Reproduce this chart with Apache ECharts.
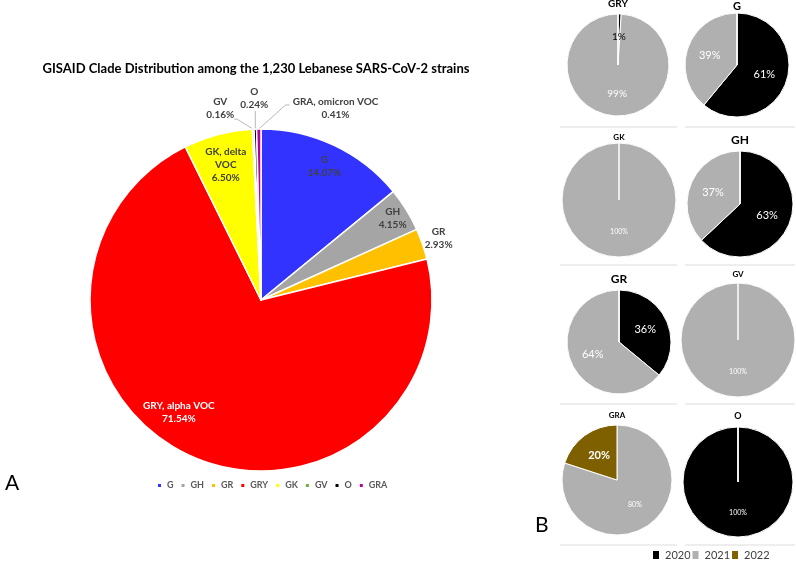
<!DOCTYPE html>
<html>
<head>
<meta charset="utf-8">
<script src="https://cdn.jsdelivr.net/npm/echarts@6/dist/echarts.min.js"></script>
<style>
  html, body { margin: 0; padding: 0; background: #fff; }
  #chart { width: 796px; height: 563px; }
</style>
</head>
<body>
<div id="chart"></div>
<script>
// panel A: clade share of the 1,230 strains (%)
const clades = ['G', 'GH', 'GR', 'GRY', 'GK', 'GV', 'O', 'GRA'];
const cladePct = [14.07, 4.15, 2.93, 71.54, 6.50, 0.16, 0.24, 0.41];
const cladeText = ['G', 'GH', 'GR', 'GRY, alpha VOC', 'GK, delta\nVOC', 'GV', 'O', 'GRA, omicron VOC'];
const cladeColors = ['#3333ff', '#a5a5a5', '#ffc000', '#ff0000', '#ffff00', '#70ad47', '#000000', '#b4009e'];

// panel B: split of each clade by year (%)
const years = ['2020', '2021', '2022'];
const yearColors = ['#000000', '#b0b0b0', '#7f6000'];
const panelB = ['GRY', 'G', 'GK', 'GH', 'GR', 'GV', 'GRA', 'O'];
const pct2020 = [1, 61, 0, 63, 36, 0, 0, 100];
const pct2021 = [99, 39, 100, 37, 64, 100, 80, 0];
const pct2022 = [0, 0, 0, 0, 0, 0, 20, 0];

// layout of the big pie
const CX = 261, CY = 300, R = 171;
// label anchor: [radius, dx, dy]
const labelSpot = {
  G: [148, 0, 0], GH: [155, 0, 0], GR: [188, 0, 0], GRY: [138, -24, -13],
  GK: [139.5, 0, 0], GV: [192, -32, 0], O: [202, 0, 0], GRA: [192, 77, 0]
};
const outside = ['GR', 'GV', 'O', 'GRA'];

const total = cladePct.reduce((a, b) => a + b, 0);
function midAngle(i) {
  let cum = 0;
  for (let k = 0; k < i; k++) cum += cladePct[k];
  return (cum + cladePct[i] / 2) / total * Math.PI * 2;
}

const mainData = clades.map((c, i) => ({
  name: c,
  value: cladePct[i],
  itemStyle: { color: cladeColors[i] },
  label: {
    position: outside.indexOf(c) >= 0 ? 'outside' : 'inside',
    color: c === 'GRY' ? '#ffffff' : '#404040'
  },
  labelLine: { show: c === 'GV' || c === 'O' || c === 'GRA' }
}));

// small pies of panel B
const smallCenter = [[618, 65], [737, 65], [619, 200], [740, 204], [619, 342], [738, 340], [617, 480], [738, 482]];
const smallRadius = [51, 52, 57, 53, 52, 57, 55, 55];
const smallTitleSize = [10, 11, 8, 12, 12, 8, 8, 9];
const smallTitleY = [5, 8, 139, 142, 281, 276, 417, 417];
const smallLabelSize = [10, 11, 7, 11, 11, 7, 7, 7];

const smallSeries = panelB.map((c, k) => {
  const vals = [pct2020[k], pct2021[k], pct2022[k]];
  return {
    type: 'pie',
    name: 'B-' + c,
    center: smallCenter[k],
    radius: [0, smallRadius[k]],
    startAngle: 90,
    animation: false,
    silent: true,
    itemStyle: { borderColor: '#ffffff', borderWidth: 1 },
    label: {
      position: 'inside',
      formatter: '{c}%',
      fontFamily: 'Lato',
      fontSize: smallLabelSize[k],
      color: '#ffffff'
    },
    labelLine: { show: false },
    data: years.map((y, i) => {
      const big = (c === 'GRA' && y === '2022');
      return {
        name: y,
        value: vals[i],
        itemStyle: { color: yearColors[i] },
        label: {
          show: vals[i] > 0,
          color: (c === 'GRY' && y === '2020') ? '#000000' : '#ffffff',
          fontSize: big ? 11 : smallLabelSize[k],
          fontWeight: big ? 'bold' : 'normal'
        }
      };
    })
  };
});

const titles = [
  {
    text: 'GISAID Clade Distribution among the 1,230 Lebanese SARS-CoV-2 strains',
    left: 251, top: 57, textAlign: 'center',
    textStyle: { fontFamily: 'Lato', fontSize: 13, fontWeight: 'bold', color: '#000000' }
  },
  { text: 'A', left: 0, top: 468, textStyle: { fontFamily: 'Lato', fontSize: 21, fontWeight: 'normal', color: '#000' } },
  { text: 'B', left: 530, top: 510, textStyle: { fontFamily: 'Lato', fontSize: 21, fontWeight: 'normal', color: '#000' } }
].concat(panelB.map((c, k) => ({
  text: c,
  left: smallCenter[k][0], top: smallTitleY[k] - smallTitleSize[k] * 0.65,
  textAlign: 'center', padding: 0,
  textStyle: { fontFamily: 'Lato', fontSize: smallTitleSize[k], fontWeight: 'bold', color: '#000000' }
})));

// thin separators under each row of panel B
const sepY = [127, 265, 404, 545];
const graphic = [];
sepY.forEach(y => {
  graphic.push({ type: 'line', shape: { x1: 560, y1: y, x2: 677, y2: y }, style: { stroke: '#dcdcdc', lineWidth: 1 } });
  graphic.push({ type: 'line', shape: { x1: 685, y1: y, x2: 795, y2: y }, style: { stroke: '#dcdcdc', lineWidth: 1 } });
});

const chart = echarts.init(document.getElementById('chart'));
chart.setOption({
  animation: false,
  backgroundColor: '#ffffff',
  title: titles,
  graphic: graphic,
  legend: [
    {
      data: clades,
      left: 156, top: 481,
      icon: 'rect', itemWidth: 5, itemHeight: 5, itemGap: 6,
      padding: 0, selectedMode: false,
      textStyle: { fontFamily: 'Lato', fontSize: 9, fontWeight: 'bold', color: '#595959' }
    },
    {
      data: years,
      left: 651, top: 549,
      icon: 'rect', itemWidth: 8, itemHeight: 10, itemGap: 0,
      padding: 0, selectedMode: false,
      textStyle: { fontFamily: 'Lato', fontSize: 11, color: '#404040' }
    }
  ],
  series: [
    {
      type: 'pie',
      name: 'clades',
      center: [CX, CY],
      radius: [0, R],
      startAngle: 90,
      avoidLabelOverlap: false,
      silent: true,
      itemStyle: { borderColor: '#ffffff', borderWidth: 1.5 },
      label: {
        fontFamily: 'Lato', fontSize: 10, fontWeight: 'bold', lineHeight: 13,
        formatter: p => cladeText[p.dataIndex] + '\n' + cladePct[p.dataIndex].toFixed(2) + '%'
      },
      labelLine: { length: 10, length2: 5, lineStyle: { color: '#a6a6a6', width: 0.8 } },
      labelLayout: function (p) {
        const i = p.dataIndex;
        const c = clades[i];
        const s = labelSpot[c];
        const a = midAngle(i);
        const lx = CX + s[0] * Math.sin(a) + s[1];
        const ly = CY - s[0] * Math.cos(a) + s[2];
        const out = { x: lx, y: ly, align: 'center', verticalAlign: 'middle' };
        const e = [CX + R * Math.sin(a), CY - R * Math.cos(a)];
        if (c === 'GV') out.labelLinePoints = [e, [lx + 17, ly + 11], [lx + 14, ly + 11]];
        if (c === 'O') out.labelLinePoints = [e, [e[0], ly + 13], [e[0], ly + 13]];
        if (c === 'GRA') out.labelLinePoints = [e, [lx - 50, ly - 3], [lx - 46, ly - 3]];
        return out;
      },
      data: mainData
    }
  ].concat(smallSeries)
});
</script>
</body>
</html>
